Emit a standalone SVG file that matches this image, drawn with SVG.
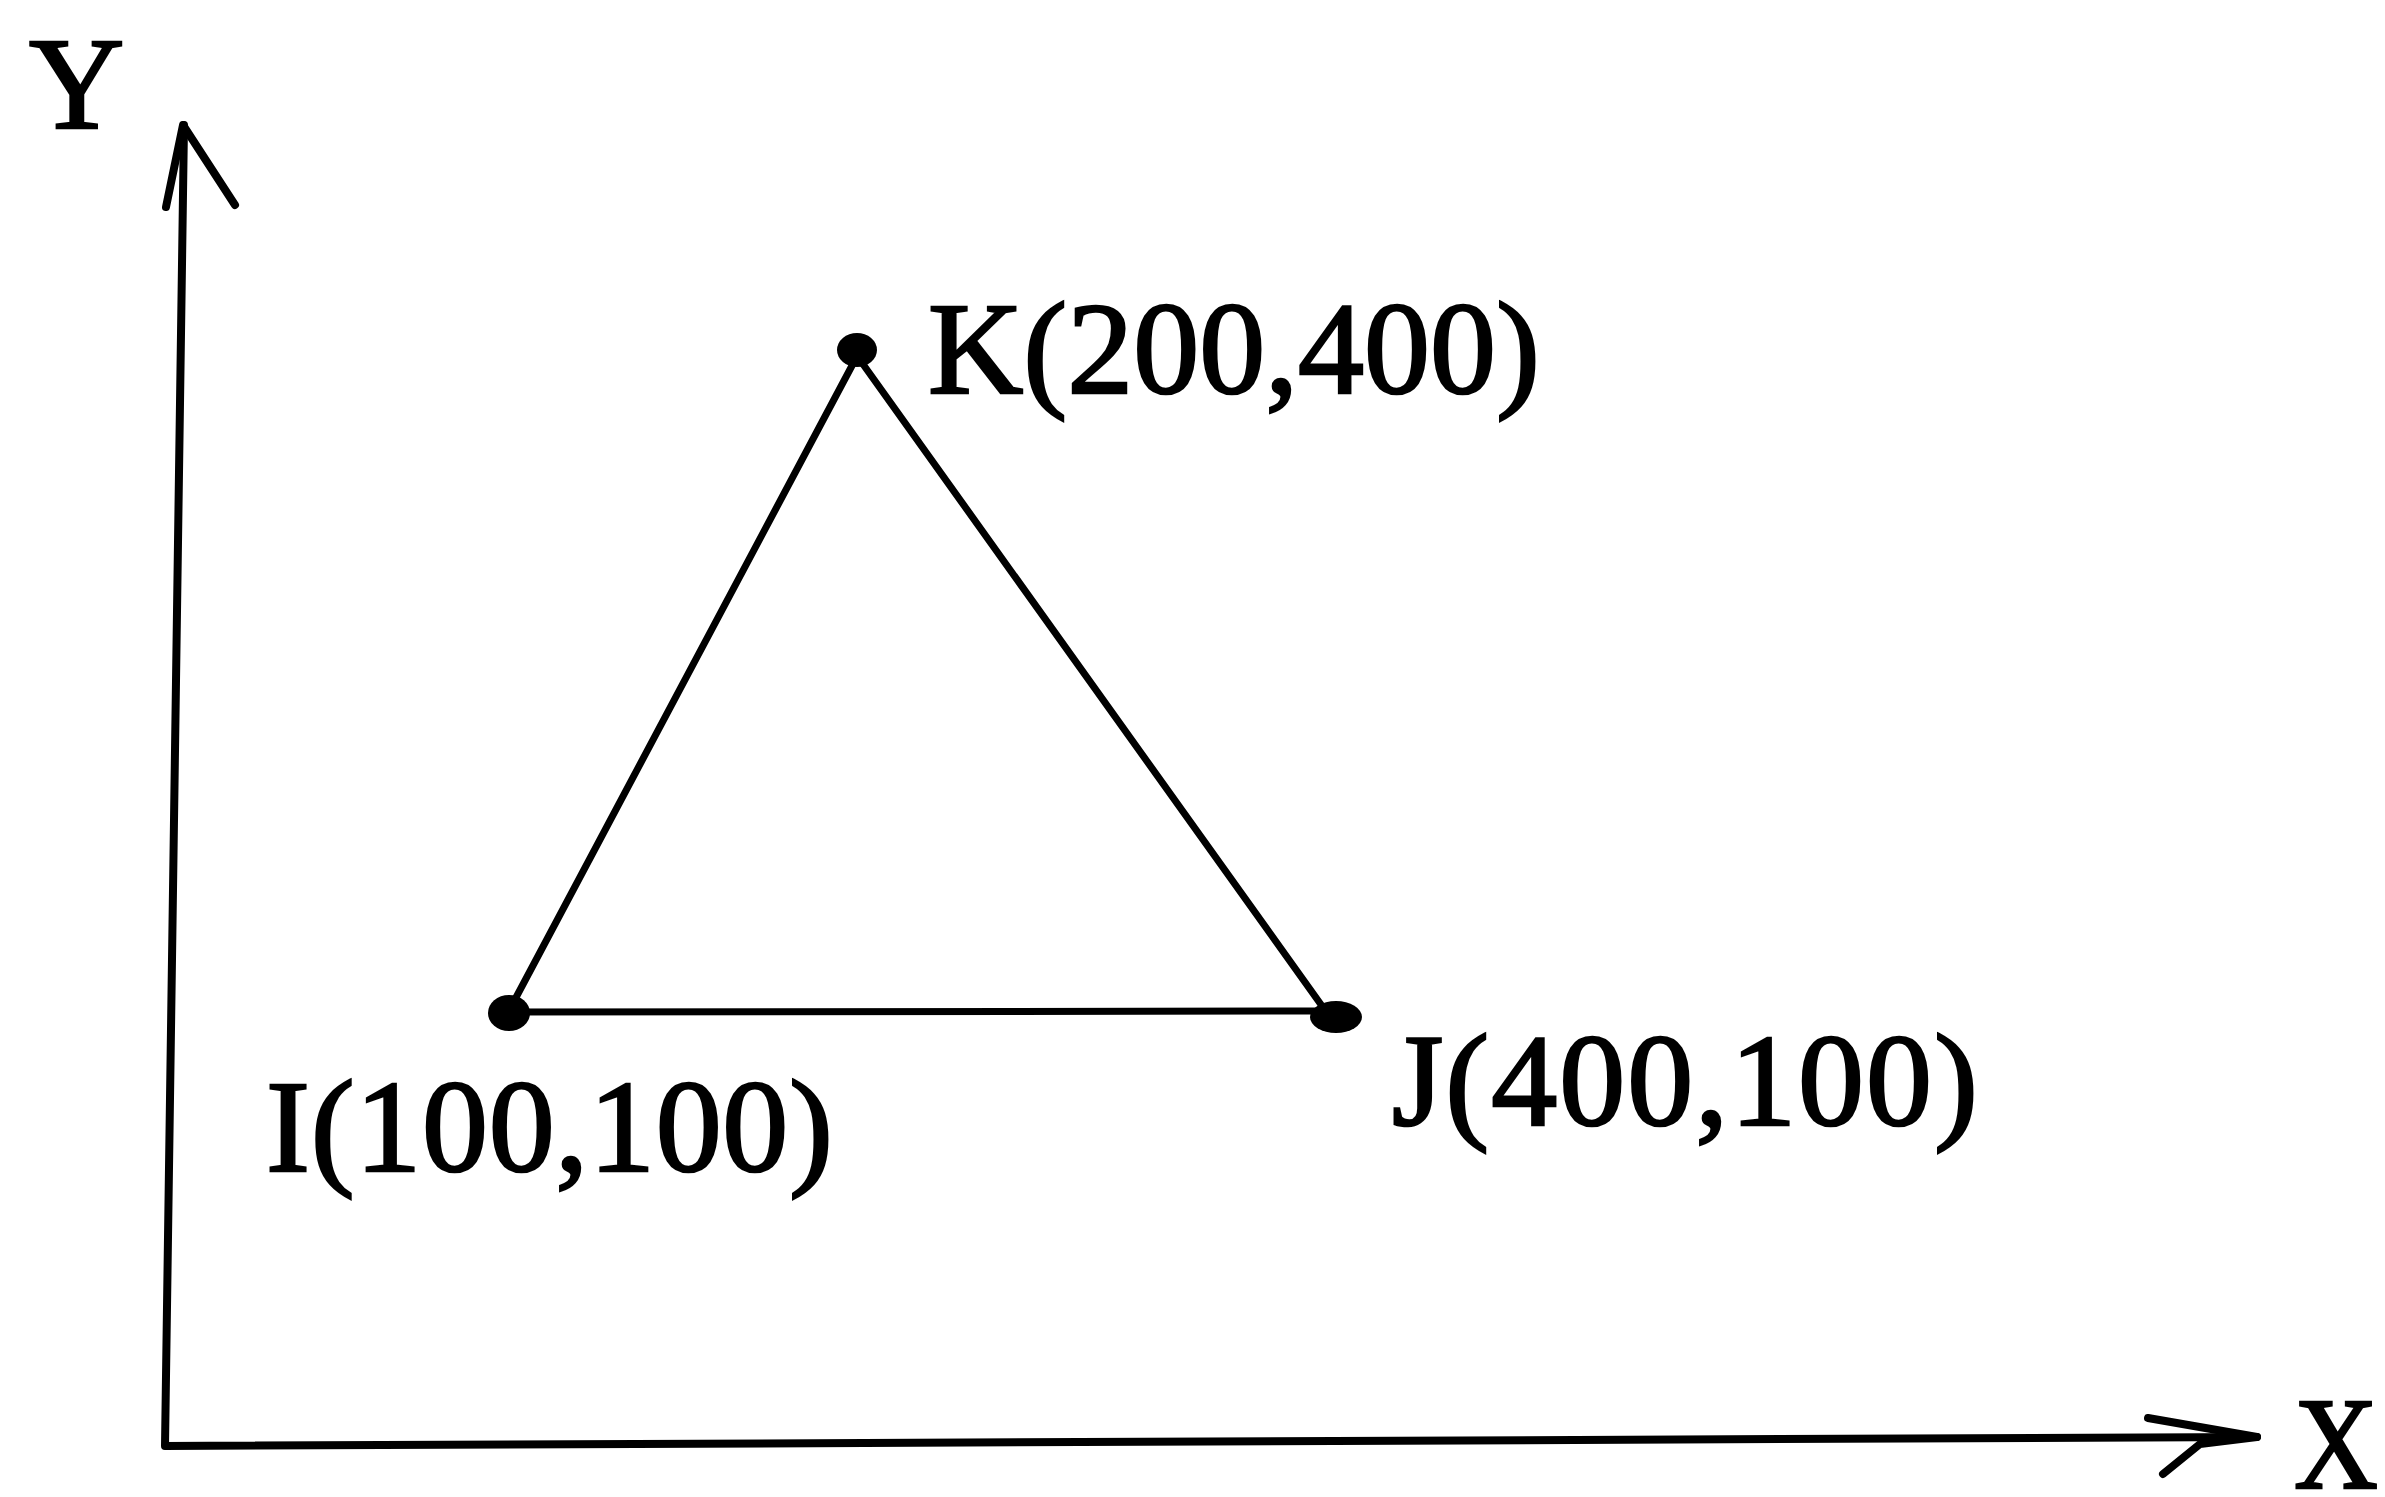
<svg xmlns="http://www.w3.org/2000/svg" width="2385" height="1497" viewBox="0 0 2385 1497">
  <style>
    .lbl { font-family: "Liberation Serif", "Times New Roman", serif; font-size: 132px; fill: #000; stroke: #000; stroke-width: 2.5; }
    .ln { stroke: #000; stroke-width: 7; stroke-linecap: round; stroke-linejoin: round; fill: none; }
    .ax { stroke: #000; stroke-width: 8; stroke-linecap: round; stroke-linejoin: round; fill: none; }
    .pt { fill: #000; }
  </style>
  <rect width="2385" height="1497" fill="#fff"/>
  <g id="axes">
    <path class="ax" d="M184,125 L165,1446 L2257,1437"/>
    <path class="ax" d="M166,207 L183,125 L235,205"/>
    <path class="ax" d="M2148,1418 L2257,1437 L2200,1444 L2163,1474"/>
    <text class="lbl" x="29" y="128">Y</text>
    <text class="lbl" x="2294" y="1488" textLength="84" lengthAdjust="spacingAndGlyphs">X</text>
  </g>
  <g id="connectors">
    <line class="ln" x1="855" y1="360" x2="512" y2="1005"/>
    <line class="ln" x1="860" y1="360" x2="1322" y2="1006"/>
    <line class="ln" x1="509" y1="1012" x2="1336" y2="1011"/>
  </g>
  <g id="node-K">
    <ellipse class="pt" cx="857" cy="350" rx="20" ry="17"/>
    <text class="lbl" x="928" y="393" textLength="612" lengthAdjust="spacing">K(200,400)</text>
  </g>
  <g id="node-I">
    <ellipse class="pt" cx="509" cy="1013" rx="21" ry="18"/>
    <text class="lbl" x="266" y="1171" textLength="567" lengthAdjust="spacing">I(100,100)</text>
  </g>
  <g id="node-J">
    <ellipse class="pt" cx="1336" cy="1017" rx="26" ry="16"/>
    <text class="lbl" x="1392" y="1125" textLength="586" lengthAdjust="spacing">J(400,100)</text>
  </g>
</svg>
